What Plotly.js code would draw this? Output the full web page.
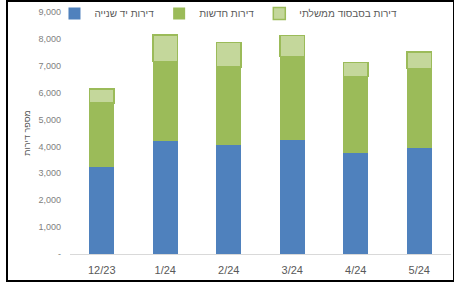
<!DOCTYPE html>
<html>
<head>
<meta charset="utf-8">
<script src="https://cdn.plot.ly/plotly-3.0.1.min.js"></script>
<style>
  html, body { margin: 0; padding: 0; background: #fff; }
  #wrap { position: relative; width: 454px; height: 282px; }
  #chart { position: absolute; left: 0; top: 0; width: 454px; height: 282px; }
  #frame { position: absolute; left: 6px; top: 0px; width: 445px; height: 278px; border: 2px solid #000; pointer-events: none; }
</style>
</head>
<body>
<div id="wrap">
  <div id="chart"></div>
  <div id="frame"></div>
</div>
<script>
var categories = ['12/23', '1/24', '2/24', '3/24', '4/24', '5/24'];
var secondHand = [3250, 4200, 4050, 4230, 3770, 3950];
var newFlats = [2370, 2950, 2900, 3120, 2830, 2950];
var subsidized = [510, 1000, 920, 780, 530, 620];
var seriesNames = ['דירות יד שנייה', 'דירות חדשות', 'דירות בסבסוד ממשלתי'];
var yTickVals = [0, 1000, 2000, 3000, 4000, 5000, 6000, 7000, 8000, 9000];
var yTickText = ['-', '1,000', '2,000', '3,000', '4,000', '5,000', '6,000', '7,000', '8,000', '9,000'];
var yTitle = 'מספר דירות';

var traces = [
  { type: 'bar', name: seriesNames[0], x: categories, y: secondHand,
    marker: { color: '#4F81BD', line: { width: 0 } } },
  { type: 'bar', name: seriesNames[1], x: categories, y: newFlats,
    marker: { color: '#9BBB59', line: { width: 0 } } },
  { type: 'bar', name: seriesNames[2], x: categories, y: subsidized,
    marker: { color: '#C4D79B', line: { color: '#9BBB59', width: 1.5 } } }
];

var layout = {
  width: 454, height: 282,
  margin: { l: 70, r: 3, t: 12, b: 28, pad: 0, autoexpand: false },
  barmode: 'stack',
  bargap: 0.61,
  paper_bgcolor: '#fff', plot_bgcolor: '#fff',
  font: { family: 'Liberation Sans, Arial, sans-serif', color: '#595959', size: 10 },
  showlegend: true,
  legend: {
    orientation: 'h', traceorder: 'normal',
    xref: 'container', yref: 'container',
    x: 0.12, y: 0.952, xanchor: 'left', yanchor: 'middle',
    font: { size: 10, color: '#595959' },
    bgcolor: 'rgba(0,0,0,0)', itemwidth: 30, tracegroupgap: 0
  },
  xaxis: {
    type: 'category', showgrid: false, zeroline: false,
    showline: true, linecolor: '#d9d9d9', linewidth: 1,
    ticks: '', ticklabelstandoff: 6,
    tickfont: { size: 11, color: '#595959' }
  },
  yaxis: {
    range: [0, 9000], showgrid: false, zeroline: false, showline: false,
    tickvals: yTickVals, ticktext: yTickText, ticks: '',
    ticklabelstandoff: 8,
    tickfont: { size: 9, color: '#808080' },
    title: { text: yTitle, font: { size: 9, color: '#595959' }, standoff: 6 }
  }
};

Plotly.newPlot('chart', traces, layout, { displayModeBar: false, staticPlot: true });
</script>
</body>
</html>
